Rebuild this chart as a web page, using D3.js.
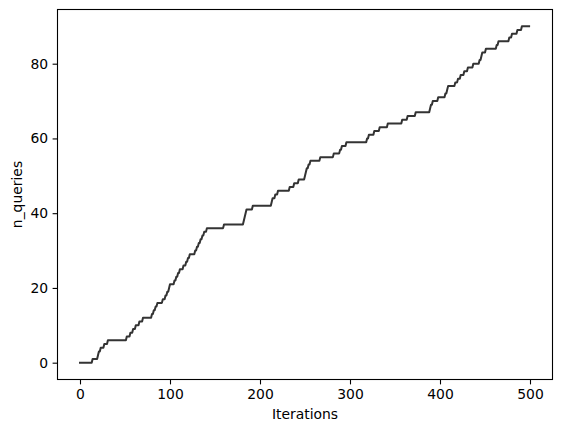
<!DOCTYPE html>
<html>
<head>
<meta charset="utf-8">
<script src="https://cdn.jsdelivr.net/npm/d3@7"></script>
<style>
  body { margin: 0; background: #fff; }
  text { font-family: "DejaVu Sans", sans-serif; }
</style>
</head>
<body>
<div id="chart"></div>
<script>
const widthChart = 563;
const heightChart = 432;
const margin = {left: 57.5, right: 10.5, top: 9.5, bottom: 52.5};

// iteration at which each new query was made (n_queries goes up by one)
const queryIterations = [
    14, 20, 21, 23, 27, 31, 52, 56, 59, 62,
    66, 70, 80, 82, 84, 86, 92, 95, 97, 99,
    100, 105, 107, 109, 111, 115, 118, 120, 122, 128,
    130, 132, 134, 136, 138, 141, 160, 182, 183, 184,
    185, 192, 213, 214, 217, 220, 233, 238, 243, 250,
    251, 252, 254, 256, 267, 282, 289, 291, 296, 319,
    321, 327, 333, 342, 358, 364, 373, 389, 390, 392,
    398, 406, 408, 409, 417, 420, 423, 427, 431, 437,
    444, 446, 447, 451, 463, 465, 477, 480, 486, 491
];
const nIterations = 500;
const xTicks = [0, 100, 200, 300, 400, 500];
const yTicks = [0, 20, 40, 60, 80];

function createChart(){

    // n_queries recorded at every iteration
    var data = d3.range(nIterations).map(function (i) {
        return {iter: i, n: d3.bisectRight(queryIterations, i)};
    });

    var innerW = widthChart - margin.left - margin.right;
    var innerH = heightChart - margin.top - margin.bottom;

    const svg = d3.select("#chart")
        .html("")
        .append("svg")
        .attr("width", widthChart)
        .attr("height", heightChart);

    const g = svg.append("g")
        .attr("transform", "translate(" + margin.left + "," + margin.top + ")");

    var xMax = nIterations;
    var yMax = d3.max(data, d => d.n);
    var x = d3.scaleLinear()
        .domain([-0.05 * xMax, 1.05 * xMax])
        .range([0, innerW]);
    var y = d3.scaleLinear()
        .domain([-0.05 * yMax, 1.05 * yMax])
        .range([innerH, 0]);

    var xAxis = g.append("g")
        .attr("transform", "translate(0," + innerH + ")")
        .call(d3.axisBottom(x).tickValues(xTicks).tickSize(4.9).tickPadding(4.5));
    var yAxis = g.append("g")
        .call(d3.axisLeft(y).tickValues(yTicks).tickSize(4.9).tickPadding(4.5));

    [xAxis, yAxis].forEach(function (a) {
        a.select(".domain").remove();
        a.selectAll("line").attr("stroke", "#000").attr("stroke-width", 1.1);
        a.selectAll("text")
            .attr("fill", "#000")
            .style("font-size", "13.9px")
            .style("font-family", "DejaVu Sans");
    });

    g.append("path")
        .datum(data)
        .attr("fill", "none")
        .attr("stroke", "#333333")
        .attr("stroke-width", 2)
        .attr("stroke-linejoin", "round")
        .attr("stroke-linecap", "square")
        .attr("d", d3.line()
            .x(d => x(d.iter))
            .y(d => y(d.n)));

    g.append("rect")
        .attr("width", innerW)
        .attr("height", innerH)
        .attr("fill", "none")
        .attr("stroke", "#000")
        .attr("stroke-width", 1.1);

    svg.append("text")
        .attr("x", margin.left + innerW / 2)
        .attr("y", 419)
        .attr("text-anchor", "middle")
        .style("font-size", "13.9px")
        .text("Iterations");

    svg.append("text")
        .attr("transform", "translate(22," + (margin.top + innerH / 2) + ") rotate(-90)")
        .attr("text-anchor", "middle")
        .style("font-size", "13.9px")
        .text("n_queries");
}

createChart();
</script>
</body>
</html>
